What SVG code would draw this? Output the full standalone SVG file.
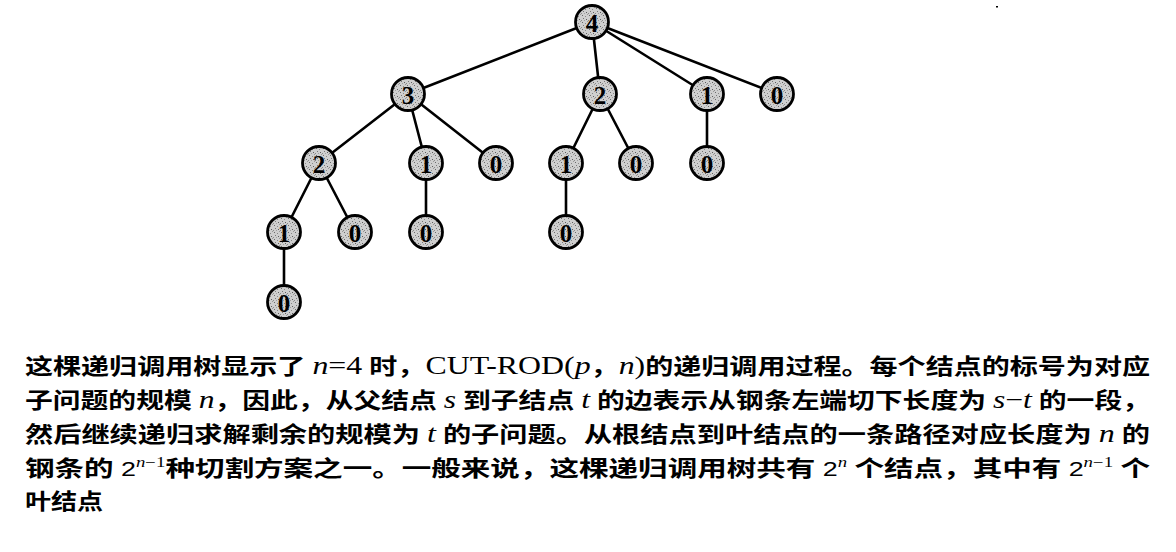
<svg xmlns="http://www.w3.org/2000/svg" width="1176" height="552" viewBox="0 0 1176 552">
<defs>
<pattern id="stip" width="7" height="7" patternUnits="userSpaceOnUse">
<rect width="7" height="7" fill="#cfcfcf"/>
<rect x="1" y="1" width="1" height="1" fill="#6a6a6a"/>
<rect x="4" y="2" width="1" height="1" fill="#888"/>
<rect x="2" y="4" width="1" height="1" fill="#777"/>
<rect x="5" y="5" width="1" height="1" fill="#5e5e5e"/>
<rect x="6" y="0" width="1" height="1" fill="#999"/>
<rect x="0" y="6" width="1" height="1" fill="#8a8a8a"/>
<rect x="3" y="6" width="1" height="1" fill="#a0a0a0"/>
</pattern>
<style>
.edge{stroke:#000;stroke-width:2.6;fill:none;stroke-linecap:round}
.nd circle{fill:url(#stip);stroke:#000;stroke-width:2.8}
.nd text{font-family:"Liberation Serif",serif;font-weight:bold;font-size:25px;text-anchor:middle;dominant-baseline:central;fill:#000}
.cap{font-family:"Liberation Serif","Noto Sans CJK SC",serif;font-size:22px;font-weight:bold;fill:#000}
.l{font-weight:normal;font-size:25px}
.i{font-style:italic;font-weight:normal;font-size:25px}
.s2{font-family:"Liberation Sans","Noto Sans CJK SC",sans-serif;font-weight:normal;font-size:20px}
.sup{font-family:"Liberation Serif",serif;font-weight:normal;font-size:14px}
.sup .i{font-size:14px}
</style>
</defs>
<rect width="1176" height="552" fill="#fff"/>
<g id="connectors">
<line class="edge" x1="592" y1="22" x2="408" y2="94"/>
<line class="edge" x1="592" y1="22" x2="600" y2="94"/>
<line class="edge" x1="592" y1="22" x2="707" y2="94"/>
<line class="edge" x1="592" y1="22" x2="777" y2="94"/>
<line class="edge" x1="408" y1="94" x2="319" y2="163"/>
<line class="edge" x1="408" y1="94" x2="426" y2="163"/>
<line class="edge" x1="408" y1="94" x2="496" y2="163"/>
<line class="edge" x1="600" y1="94" x2="566" y2="163"/>
<line class="edge" x1="600" y1="94" x2="636" y2="163"/>
<line class="edge" x1="707" y1="94" x2="707" y2="163"/>
<line class="edge" x1="319" y1="163" x2="284" y2="232"/>
<line class="edge" x1="319" y1="163" x2="355" y2="232"/>
<line class="edge" x1="426" y1="163" x2="426" y2="232"/>
<line class="edge" x1="566" y1="163" x2="566" y2="232"/>
<line class="edge" x1="284" y1="232" x2="284" y2="302"/>
</g>
<g id="n4" class="nd"><circle cx="592" cy="22" r="16.5"/><text x="592" y="23">4</text></g>
<g id="n3" class="nd"><circle cx="408" cy="94" r="16.5"/><text x="408" y="95">3</text></g>
<g id="n2a" class="nd"><circle cx="600" cy="94" r="16.5"/><text x="600" y="95">2</text></g>
<g id="n1a" class="nd"><circle cx="707" cy="94" r="16.5"/><text x="707" y="95">1</text></g>
<g id="n0a" class="nd"><circle cx="777" cy="94" r="16.5"/><text x="777" y="95">0</text></g>
<g id="n2b" class="nd"><circle cx="319" cy="163" r="16.5"/><text x="319" y="164">2</text></g>
<g id="n1b" class="nd"><circle cx="426" cy="163" r="16.5"/><text x="426" y="164">1</text></g>
<g id="n0b" class="nd"><circle cx="496" cy="163" r="16.5"/><text x="496" y="164">0</text></g>
<g id="n1c" class="nd"><circle cx="566" cy="163" r="16.5"/><text x="566" y="164">1</text></g>
<g id="n0c" class="nd"><circle cx="636" cy="163" r="16.5"/><text x="636" y="164">0</text></g>
<g id="n0d" class="nd"><circle cx="707" cy="163" r="16.5"/><text x="707" y="164">0</text></g>
<g id="n1d" class="nd"><circle cx="284" cy="232" r="16.5"/><text x="284" y="233">1</text></g>
<g id="n0e" class="nd"><circle cx="355" cy="232" r="16.5"/><text x="355" y="233">0</text></g>
<g id="n0f" class="nd"><circle cx="426" cy="232" r="16.5"/><text x="426" y="233">0</text></g>
<g id="n0g" class="nd"><circle cx="566" cy="232" r="16.5"/><text x="566" y="233">0</text></g>
<g id="n0h" class="nd"><circle cx="284" cy="302" r="16.5"/><text x="284" y="303">0</text></g>
<rect x="996" y="6" width="2" height="1.5" fill="#000"/>
<g id="caption">
<text class="cap" x="25" y="374" textLength="1125" lengthAdjust="spacingAndGlyphs">这棵递归调用树显示了 <tspan class="i">n</tspan><tspan class="l">=4</tspan> 时，<tspan class="l">CUT-ROD(</tspan><tspan class="i">p</tspan>，<tspan class="i">n</tspan><tspan class="l">)</tspan>的递归调用过程。每个结点的标号为对应</text>
<text class="cap" x="25" y="408" textLength="1125" lengthAdjust="spacingAndGlyphs">子问题的规模 <tspan class="i">n</tspan>，因此，从父结点 <tspan class="i">s</tspan> 到子结点 <tspan class="i">t</tspan> 的边表示从钢条左端切下长度为 <tspan class="i">s</tspan><tspan class="l">−</tspan><tspan class="i">t</tspan> 的一段，</text>
<text class="cap" x="25" y="442" textLength="1125" lengthAdjust="spacingAndGlyphs">然后继续递归求解剩余的规模为 <tspan class="i">t</tspan> 的子问题。从根结点到叶结点的一条路径对应长度为 <tspan class="i">n</tspan> 的</text>
<text class="cap" x="25" y="476" textLength="1125" lengthAdjust="spacingAndGlyphs">钢条的 <tspan class="s2">2</tspan><tspan class="sup" dy="-9"><tspan class="i">n</tspan>−1</tspan><tspan dy="9">种切割方案之一。一般来说，这棵递归调用树共有 </tspan><tspan class="s2">2</tspan><tspan class="sup" dy="-9"><tspan class="i">n</tspan></tspan><tspan dy="9"> 个结点，其中有 </tspan><tspan class="s2">2</tspan><tspan class="sup" dy="-9"><tspan class="i">n</tspan>−1</tspan><tspan dy="9"> 个</tspan></text>
<text class="cap" x="25" y="509" textLength="78" lengthAdjust="spacingAndGlyphs">叶结点</text>
</g>
</svg>
